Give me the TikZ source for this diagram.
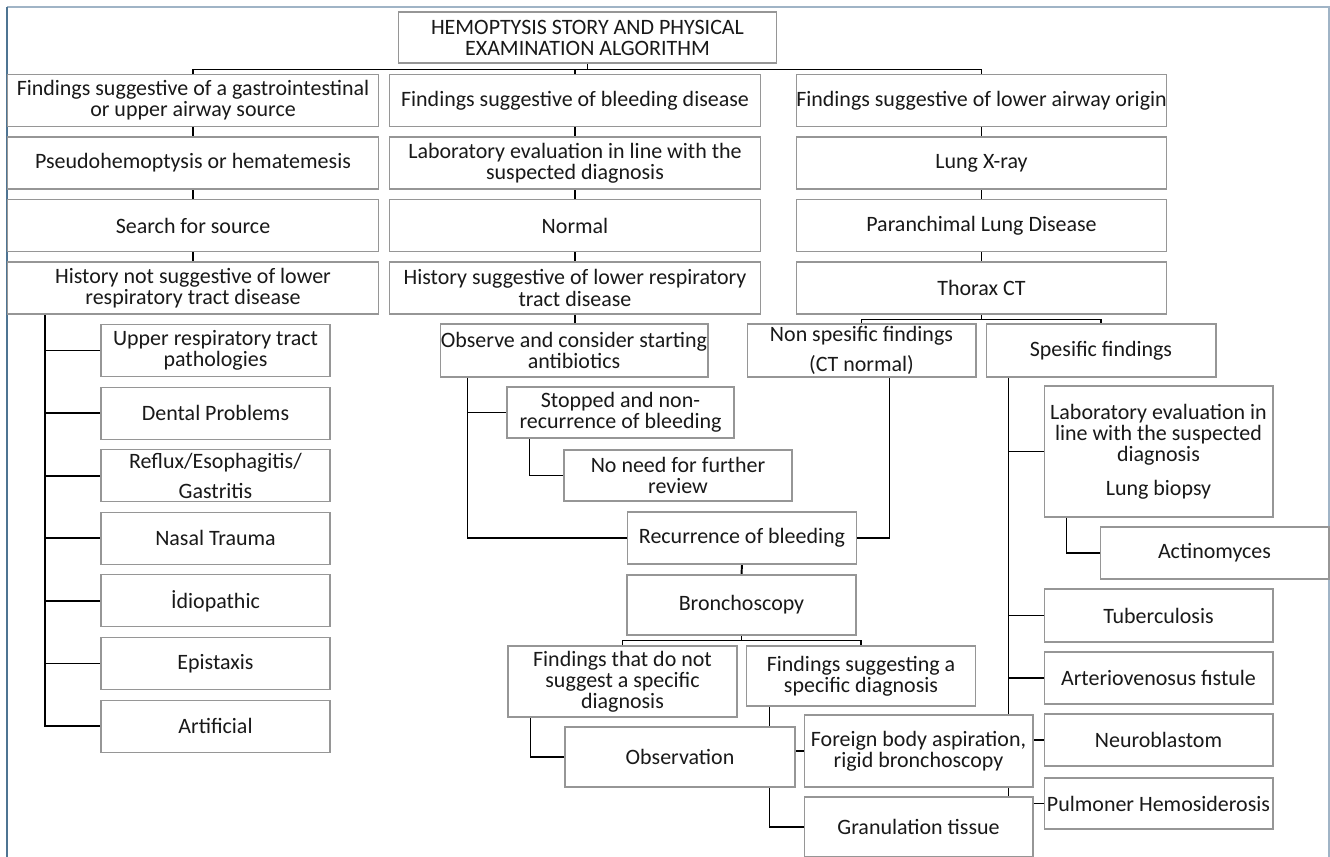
\documentclass[tikz,border=0pt]{standalone}
\usepackage{fontspec}
\setmainfont{Carlito}
\usepackage{xcolor}
\definecolor{boxgray}{RGB}{150,150,150}
\definecolor{framedark}{RGB}{78,116,146}
\definecolor{framelight}{RGB}{160,180,198}
\usepackage{tikz}
\usetikzlibrary{positioning,calc,backgrounds}

\begin{document}
\begin{tikzpicture}[x=0.02cm, y=-0.02cm]
        \tikzset{
          box/.style={draw=boxgray, fill=white, line width=0.6pt, inner sep=0pt,
                      align=center, text=black!90, font=\fontsize{12.5}{12}\selectfont},
          colbox/.style={box, minimum width=7.42cm, minimum height=1.04cm},
          smallbox/.style={box, minimum width=4.58cm, minimum height=1.04cm},
          conn/.style={draw=black, line width=1.1pt}
        }
        \useasboundingbox (0,0) rectangle (1330,857);
        % Title
        \node[box, minimum width=7.58cm, minimum height=1.02cm] (title) at (587.5,37.5)
          {HEMOPTYSIS STORY AND PHYSICAL\\EXAMINATION ALGORITHM};
        % Upper source column
        \foreach \i/\txt in {1/{Findings suggestive of a gastrointestinal\\or upper airway source},
                             2/{Pseudohemoptysis or hematemesis},
                             3/{Search for source},
                             4/{History not suggestive of lower\\respiratory tract disease}} {
          \node[colbox] (L\i) at (193,100.5+62.5*\i-62.5) {\txt};
        }
        % Bleeding disease column
        \foreach \i/\txt in {1/{Findings suggestive of bleeding disease},
                             2/{Laboratory evaluation in line with the\\suspected diagnosis},
                             3/{Normal},
                             4/{History suggestive of lower respiratory\\tract disease}} {
          \node[colbox] (M\i) at (575,100.5+62.5*\i-62.5) {\txt};
        }
        % Lower airway column
        \foreach \i/\txt in {1/{Findings suggestive of lower airway origin},
                             2/{Lung X-ray},
                             3/{Paranchimal Lung Disease},
                             4/{Thorax CT}} {
          \node[colbox] (R\i) at (981.5,100.5+62.5*\i-62.5) {\txt};
        }
        % Upper airway causes
        \foreach \i/\txt in {1/{Upper respiratory tract\\pathologies},
                             2/{Dental Problems},
                             3/{Reflux/Esophagitis/\\[5pt]Gastritis},
                             4/{Nasal Trauma},
                             5/{İdiopathic},
                             6/{Epistaxis},
                             7/{Artificial}} {
          \node[smallbox] (A\i) at (215.5,350.5+62.6*\i-62.6) {\txt};
        }
        % Bleeding branch
        \node[box, minimum width=5.36cm, minimum height=1.06cm] (obs) at (574,350.5)
          {Observe and consider starting\\antibiotics};
        \node[box, minimum width=4.54cm, minimum height=1.02cm] (stop) at (620.5,412.5)
          {Stopped and non-\\recurrence of bleeding};
        \node[box, minimum width=4.56cm, minimum height=1.02cm] (noneed) at (678,475.5)
          {No need for further\\review};
        \node[smallbox] (recur) at (742,538) {Recurrence of bleeding};
        \node[smallbox, minimum height=1.2cm] (bronch) at (741.5,605) {Bronchoscopy};
        \node[smallbox, minimum height=1.42cm] (nodiag) at (622.5,681.5)
          {Findings that do not\\suggest a specific\\diagnosis};
        \node[smallbox, minimum height=1.2cm] (sugg) at (861,676)
          {Findings suggesting a\\specific diagnosis};
        \node[box, minimum width=4.6cm, minimum height=1.2cm] (observ) at (680,757) {Observation};
        \node[smallbox, minimum height=1.44cm] (foreign) at (918.5,751)
          {Foreign body aspiration,\\rigid bronchoscopy};
        \node[smallbox, minimum height=1.2cm] (gran) at (918.5,827) {Granulation tissue};
        % Thorax CT branch
        \node[smallbox, minimum height=1.06cm] (nonspec) at (861.5,350.5)
          {Non spesific findings\\[5pt](CT normal)};
        \node[box, minimum width=4.6cm, minimum height=1.06cm] (spec) at (1101,350.5)
          {Spesific findings};
        \node[smallbox, minimum height=2.62cm] (lab) at (1158.5,451.5)
          {Laboratory evaluation in\\line with the suspected\\diagnosis\\[7pt]Lung biopsy};
        \node[smallbox] (act) at (1214.5,553) {Actinomyces};
        \node[smallbox, minimum height=1.06cm] (tb) at (1158.5,615.5) {Tuberculosis};
        \node[smallbox] (av) at (1158.5,678) {Arteriovenosus fıstule};
        \node[smallbox] (neuro) at (1158.5,740) {Neuroblastom};
        \node[smallbox, minimum height=1.02cm] (pulm) at (1158.5,803.5) {Pulmoner Hemosiderosis};

        \begin{scope}[on background layer]
          % Frame
          \draw[framelight, line width=0.8pt] (7,7) -- (1329,7) -- (1329,860);
          \draw[framedark, line width=1.4pt] (7,7) -- (7,860);
          % Title to columns
          \foreach \c in {L1,M1,R1} {
            \draw[conn] (title.south) -- ++(0,6) -| (\c.north);
          }
          % Column chains
          \foreach \c in {L,M,R} {
            \foreach \i/\j in {1/2,2/3,3/4} {
              \draw[conn] (\c\i.south) -- (\c\j.north);
            }
          }
          % Upper airway causes
          \coordinate (lspine) at ($(L4.south west)+(38,0)$);
          \draw[conn] (lspine) |- (A7.west);
          \foreach \i in {1,...,6} {
            \draw[conn] (A\i.west) -- (A\i.west -| lspine);
          }
          % Bleeding branch
          \draw[conn] (M4.south) -- (M4.south |- obs.north);
          \draw[conn] ($(obs.south west)+(28,0)$) |- (recur.west);
          \draw[conn] (stop.west) -- ++(-39,0);
          \draw[conn] ($(stop.south west)+(23,0)$) |- (noneed.west);
          \draw[conn] ($(nonspec.south west)+(143,0)$) |- (recur.east);
          \draw[conn] (recur.south) -- (bronch.north);
          \foreach \c in {nodiag,sugg} {
            \draw[conn] (bronch.south) -- ++(0,5) -| (\c.north);
          }
          \draw[conn] ($(nodiag.south west)+(23,0)$) |- (observ.west);
          \coordinate (bspine) at ($(sugg.south west)+(23.5,0)$);
          \draw[conn] (bspine) |- (gran.west);
          \draw[conn] (foreign.west) -- (foreign.west -| bspine);
          % Thorax CT branch
          \foreach \c in {nonspec,spec} {
            \draw[conn] (R4.south) -- ++(0,5) -| (\c.north);
          }
          \coordinate (sspine) at ($(spec.south west)+(23,0)$);
          \draw[conn] (sspine) |- (pulm.west);
          \foreach \c in {lab,tb,av,neuro} {
            \draw[conn] (\c.west) -- (\c.west -| sspine);
          }
          \draw[conn] ($(lab.south west)+(23,0)$) |- (act.west);
        \end{scope}
      \end{tikzpicture}
\end{document}
